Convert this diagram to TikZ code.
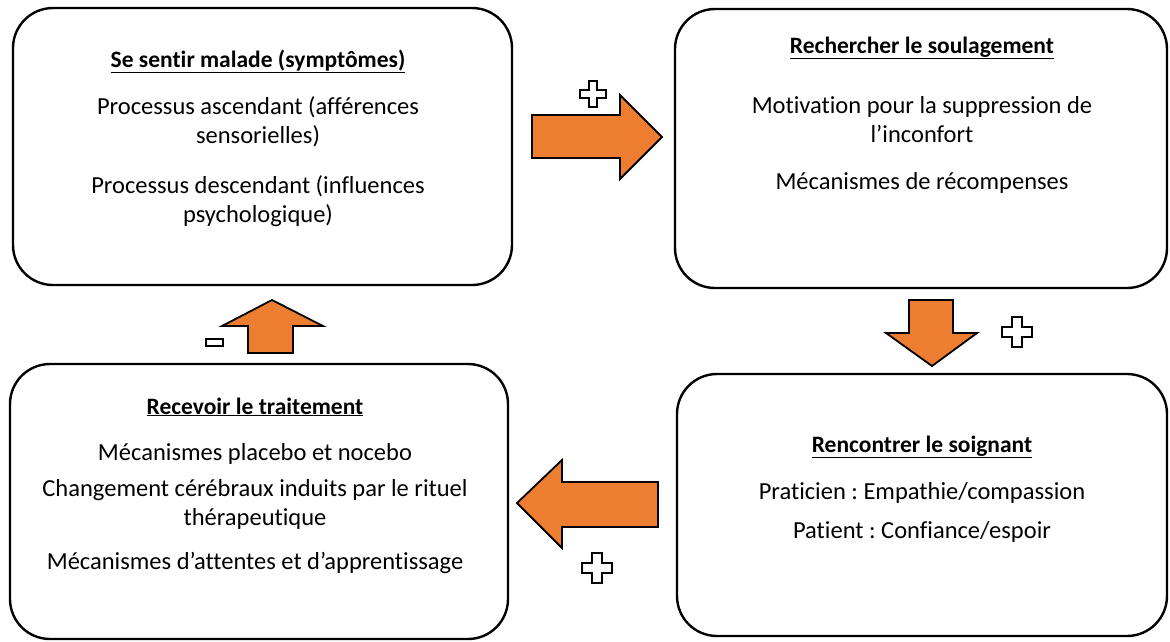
\documentclass[tikz,border=0pt]{standalone}
\usepackage{fontspec}
\setmainfont[Ligatures = NoCommon]{Carlito}
\usepackage{tikz}
\frenchspacing

\definecolor{arrowfill}{HTML}{ED7D31}

\tikzset{
	box/.style = {draw, line width = 2.4pt, rounded corners = 40pt, inner sep = 0pt},
	ttl/.style = {font = \fontsize{23.5}{28}\selectfont\bfseries, text height = 16pt, text depth = 6pt},
	txt/.style = {font = \fontsize{24.5}{29}\selectfont, text height = 16pt, text depth = 6pt},
	bigarrow/.style = {fill = arrowfill, draw = black, line width = 1.8pt, line join = miter},
	sign/.style = {fill = white, draw = black, line width = 1.8pt, line join = miter}
}

\begin{document}
\begin{tikzpicture}[x = 1pt, y = -1pt]
	\useasboundingbox (0, 0) rectangle (1170, 641);

	% Kaesten
	\node [box, minimum width = 499pt, minimum height = 277pt] (malade) at (262.5, 146.5) {};
	\node [box, minimum width = 492pt, minimum height = 279pt] (soulagement) at (921, 148.5) {};
	\node [box, minimum width = 490pt, minimum height = 262pt] (soignant) at (922, 505) {};
	\node [box, minimum width = 498pt, minimum height = 275pt] (traitement) at (259, 501.5) {};

	% Se sentir malade
	\node [ttl] (malade-t) at (258, 62) {\underline{Se sentir malade (symptômes)}};
	\node [txt] (malade-1) at (258, 109) {Processus ascendant (afférences};
	\node [txt] (malade-2) at (258, 138) {sensorielles)};
	\node [txt] (malade-3) at (258, 188) {Processus descendant (influences};
	\node [txt] (malade-4) at (258, 217) {psychologique)};

	% Rechercher le soulagement
	\node [ttl] (soulagement-t) at (922, 48) {\underline{Rechercher le soulagement}};
	\node [txt] (soulagement-1) at (922, 108) {Motivation pour la suppression de};
	\node [txt] (soulagement-2) at (922, 137) {l’inconfort};
	\node [txt] (soulagement-3) at (922, 184) {Mécanismes de récompenses};

	% Rencontrer le soignant
	\node [ttl] (soignant-t) at (922, 447) {\underline{Rencontrer le soignant}};
	\node [txt] (soignant-1) at (922, 494) {Praticien : Empathie/compassion};
	\node [txt] (soignant-2) at (922, 533) {Patient : Confiance/espoir};

	% Recevoir le traitement
	\node [ttl] (traitement-t) at (255, 409) {\underline{Recevoir le traitement}};
	\node [txt] (traitement-1) at (255, 455) {Mécanismes placebo et nocebo};
	\node [txt] (traitement-2) at (255, 491) {Changement cérébraux induits par le rituel};
	\node [txt] (traitement-3) at (255, 520) {thérapeutique};
	\node [txt] (traitement-4) at (255, 564) {Mécanismes d’attentes et d’apprentissage};

	% Pfeile
	\draw [bigarrow] (532, 115) -- (620, 115) -- (620, 95) -- (662, 137) -- (620, 179) -- (620, 158) -- (532, 158) -- cycle;
	\draw [bigarrow] (909, 300) -- (953, 300) -- (953, 333) -- (977, 333) -- (932, 366) -- (886, 333) -- (909, 333) -- cycle;
	\draw [bigarrow] (658, 482) -- (562, 482) -- (562, 460) -- (517, 503) -- (562, 548) -- (562, 527) -- (658, 527) -- cycle;
	\draw [bigarrow] (248, 353) -- (293, 353) -- (293, 326) -- (323, 326) -- (272, 300) -- (222, 326) -- (248, 326) -- cycle;

	% Vorzeichen
	\foreach \px/\py/\s in {593/94/4.3, 1017/332/5, 597/568/5} {
		\draw [sign, shift = {(\px, \py)}, scale = \s]
			(-1, -3) -- (1, -3) -- (1, -1) -- (3, -1) -- (3, 1) -- (1, 1) -- (1, 3)
			-- (-1, 3) -- (-1, 1) -- (-3, 1) -- (-3, -1) -- (-1, -1) -- cycle;
	}
	\draw [sign] (206, 339) rectangle (223, 346);
\end{tikzpicture}
\end{document}
